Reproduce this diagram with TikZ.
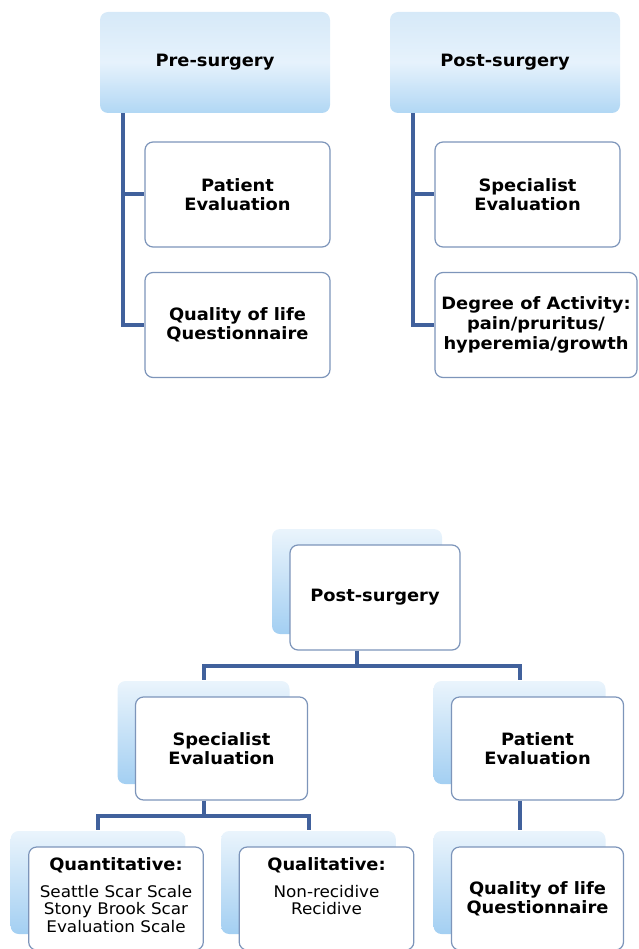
\documentclass[tikz,border=0pt]{standalone}
\usepackage{fontspec}
\setmainfont{DejaVu Sans}[FakeStretch=1.05]
\usetikzlibrary{shadows}

\definecolor{linkblue}{HTML}{41619C}
\definecolor{boxline}{HTML}{7D95BA}
\definecolor{headtop}{HTML}{D6E9F8}
\definecolor{headmid}{HTML}{E6F2FC}
\definecolor{headbot}{HTML}{B1D7F4}
\definecolor{shadetop}{HTML}{EAF4FC}
\definecolor{shadebot}{HTML}{A3CFF2}

\begin{document}
\begin{tikzpicture}[x=1pt,y=-1pt,
    head/.style={rounded corners=8pt, top color=headtop, bottom color=headbot, middle color=headmid,
      minimum width=230pt, minimum height=101pt, font=\fontsize{17}{19}\selectfont\bfseries},
    item/.style={draw=boxline, line width=1.2pt, fill=white, rounded corners=8pt,
      minimum width=185pt, minimum height=105pt, align=center, font=\fontsize{17}{19}\selectfont\bfseries},
    card/.style={item, minimum width=172pt, minimum height=103pt,
      general shadow={draw=none, shadow xshift=-18pt, shadow yshift=16pt,
        top color=shadetop, bottom color=shadebot}},
    leaf/.style={card, font=\fontsize{16}{17.5}\selectfont},
    link/.style={draw=linkblue, line width=4pt}
  ]
  \useasboundingbox (0,0) rectangle (638,949);

  \node[head] (pre) at (215,62.5) {Pre-surgery};
  \node[item] (prepat) at (237.5,194.5) {Patient\\Evaluation};
  \node[item] (preqol) at (237.5,325) {Quality of life\\Questionnaire};
  \draw[link] ([xshift=23pt]pre.south west) |- (prepat.west);
  \draw[link] ([xshift=23pt]pre.south west) |- (preqol.west);

  \node[head] (post) at (505,62.5) {Post-surgery};
  \node[item] (postspec) at (527.5,194.5) {Specialist\\Evaluation};
  \node[item, minimum width=202pt] (postact) at (536,325) {Degree of Activity:\\[1pt]pain/pruritus/\\[1pt]hyperemia/growth};
  \draw[link] ([xshift=23pt]post.south west) |- (postspec.west);
  \draw[link] ([xshift=23pt]post.south west) |- (postact.west);

  \node[card, minimum width=170pt, minimum height=105pt] (root) at (375,597.5) {Post-surgery};
  \node[card] (spec) at (221.5,748.5) {Specialist\\Evaluation};
  \node[card] (pat) at (537.5,748.5) {Patient\\Evaluation};
  \node[leaf] (quant) at (116,898.5) {\parbox[c][81pt][t]{168pt}{\centering
      {\fontsize{17}{19}\selectfont\bfseries Quantitative:}\\[9pt]
      Seattle Scar Scale\\Stony Brook Scar\\Evaluation Scale}};
  \node[leaf] (qual) at (326.5,898.5) {\parbox[c][81pt][t]{168pt}{\centering
      {\fontsize{17}{19}\selectfont\bfseries Qualitative:}\\[9pt]
      Non-recidive\\Recidive}};
  \node[card] (qol) at (537.5,898.5) {Quality of life\\Questionnaire};

  \draw[link] ([xshift=-18pt]root.south) -- ++(0,15) coordinate (rootfork);
  \draw[link] (rootfork) -| ([xshift=-18pt,yshift=16pt]spec.north);
  \draw[link] (rootfork) -| ([xshift=-18pt,yshift=16pt]pat.north);
  \draw[link] ([xshift=-18pt]spec.south) -- ++(0,15) coordinate (specfork);
  \draw[link] (specfork) -| ([xshift=-18pt,yshift=16pt]quant.north);
  \draw[link] (specfork) -| ([xshift=-18pt,yshift=16pt]qual.north);
  \draw[link] ([xshift=-18pt]pat.south) -- ([xshift=-18pt,yshift=16pt]qol.north);
\end{tikzpicture}
\end{document}
